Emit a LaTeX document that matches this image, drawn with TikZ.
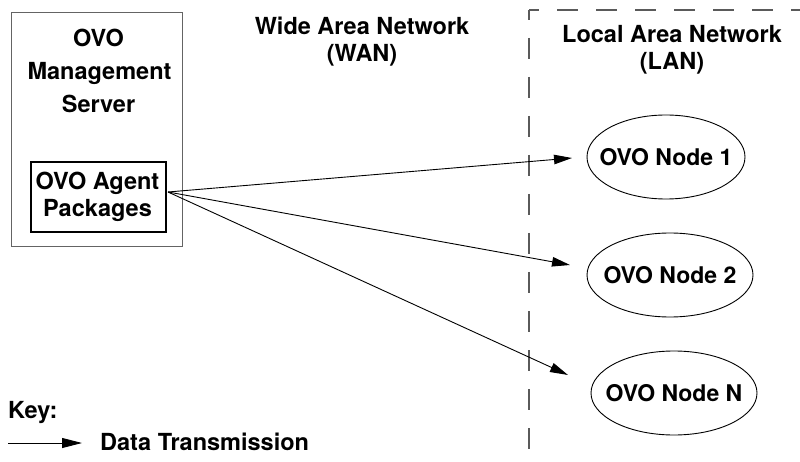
\documentclass[tikz,border=0pt]{standalone}
\usepackage{fontspec}
\setmainfont{TeX Gyre Heros}
\usetikzlibrary{arrows.meta,shapes.geometric,calc}
\definecolor{boxgray}{RGB}{100,100,100}
\definecolor{dashgray}{RGB}{90,90,90}
\newcommand{\zw}[1]{\makebox[0pt][c]{#1}}
\tikzset{
  lbl/.style={font=\fontsize{23.5}{27}\selectfont\bfseries, inner sep=0pt, anchor=base},
  ovonode/.style={ellipse, draw=black, line width=0.9pt, minimum width=166pt, minimum height=84pt, inner sep=0pt, font=\fontsize{23}{27}\selectfont\bfseries},
  xmit/.style={draw=black, line width=0.9pt, -{Triangle[length=18pt,width=9.5pt]}},
  lanedge/.style={draw=dashgray, line width=1.2pt, dash pattern=on 21pt off 18pt, dash phase=11pt}
}
\begin{document}
\begin{tikzpicture}[x=1pt,y=-1pt]
\useasboundingbox (0,0) rectangle (800,462);
% server box
\node[draw=boxgray, line width=0.9pt, minimum width=171pt, minimum height=234pt, inner sep=0pt] (server) at (96.5,129) {};
\node[lbl] (s1) at (98.5,47) {OVO};
\node[lbl] (s2) at (99.5,80) {Management};
\node[lbl] (s3) at (98.5,113) {Server};
% package box
\node[draw=black, line width=2pt, minimum width=135pt, minimum height=70pt, inner sep=0pt] (pkg) at (98.5,197) {};
\node[lbl] (p1) at (97.5,190) {OVO Agent};
\node[lbl] (p2) at (97.5,217) {Packages};
% WAN label
\node[lbl] (w1) at (362,35) {Wide Area Network};
\node[lbl] (w2) at (362,62) {(WAN)};
% LAN region
\coordinate (lanbot) at (529,462);
\coordinate (lancorner) at (529,10);
\coordinate (lanright) at (800,10);
\draw[lanedge] (lancorner) -- (lanbot);
\draw[lanedge] (lancorner) -- (lanright);
\node[lbl] (l1) at (672,43) {Local Area Network};
\node[lbl] (l2) at (672,70) {(LAN)};
% nodes
\node[ovonode, minimum width=158pt] (n1) at (666,157) {\zw{OVO Node 1}};
\node[ovonode] (n2) at (670,275) {\zw{OVO Node 2}};
\node[ovonode] (nN) at (674,393) {\zw{OVO Node N}};
% arrows
\coordinate (src) at (168,192);
\coordinate (t1) at (572,158);
\coordinate (t2) at (570,265);
\coordinate (t3) at (568,375);
\draw[xmit] (src) -- (t1);
\draw[xmit] (src) -- (t2);
\draw[xmit] (src) -- (t3);
% key
\node[lbl, anchor=base west] (key) at (8,418) {Key:};
\coordinate (k1) at (8,443);
\coordinate (k2) at (82,443);
\draw[xmit, -{Triangle[length=20pt,width=10pt]}] (k1) -- (k2);
\node[lbl, anchor=base west] (keytxt) at (100,450) {Data Transmission};
\end{tikzpicture}
\end{document}
